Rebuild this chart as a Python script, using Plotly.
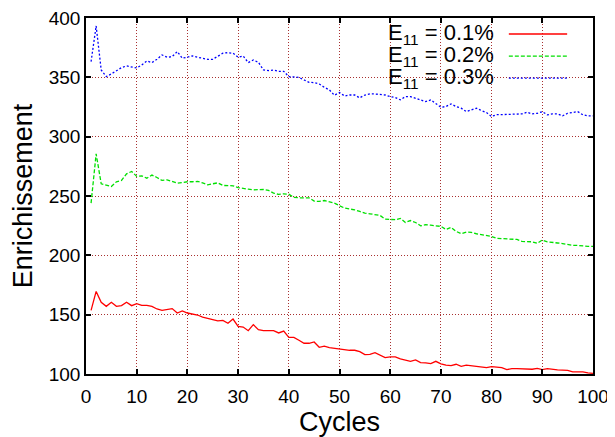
import plotly.graph_objects as go

cycles = list(range(1, 101))

e11_01 = [153.6, 169.6, 160.4, 157.0, 160.4, 157.0, 157.6, 160.4, 157.6, 159.3,
          157.9, 157.9, 157.0, 154.8, 153.6, 154.2, 155.1, 151.4, 153.1, 151.4,
          150.6, 149.7, 148.0, 146.6, 145.8, 144.7, 145.2, 142.7, 146.3, 140.2,
          139.6, 136.5, 141.6, 137.4, 136.5, 136.5, 136.5, 134.6, 136.2, 130.9,
          130.9, 128.4, 125.9, 125.9, 127.0, 122.5, 123.4, 122.3, 121.7, 121.4,
          120.8, 120.0, 120.0, 118.9, 116.3, 116.6, 118.0, 115.8, 113.8, 114.4,
          114.4, 112.7, 111.9, 110.7, 111.9, 109.6, 109.3, 108.8, 110.7, 108.5,
          107.4, 107.1, 108.2, 106.5, 107.4, 106.8, 106.2, 105.4, 105.4, 106.2,
          105.6, 105.4, 103.7, 104.5, 104.5, 104.5, 104.5, 104.0, 104.8, 103.7,
          104.5, 103.7, 103.4, 103.2, 103.0, 101.8, 101.8, 101.8, 101.0, 100.6]

e11_02 = [244.0, 285.5, 260.3, 258.9, 258.0, 262.0, 263.1, 268.7, 270.7, 266.5,
          267.0, 265.0, 267.6, 265.6, 263.1, 263.6, 262.0, 260.8, 261.3, 262.0,
          262.0, 262.3, 261.1, 259.4, 260.3, 261.1, 258.9, 258.6, 258.6, 257.0,
          256.1, 255.8, 255.2, 255.2, 255.5, 254.7, 252.4, 251.3, 251.8, 251.5,
          248.8, 248.5, 248.5, 248.5, 245.7, 245.4, 246.2, 245.4, 244.0, 241.8,
          239.8, 239.0, 238.4, 237.0, 235.6, 235.0, 234.2, 233.6, 230.5, 230.0,
          230.0, 231.1, 227.7, 229.3, 227.7, 224.9, 225.8, 225.4, 224.9, 224.4,
          221.8, 223.6, 220.2, 218.2, 219.6, 219.3, 218.2, 217.3, 216.5, 215.9,
          214.3, 214.0, 213.4, 213.4, 213.4, 211.7, 211.4, 211.4, 210.1, 212.9,
          211.4, 210.6, 210.4, 209.9, 208.9, 208.4, 208.4, 207.8, 207.5, 207.5]

e11_03 = [363.2, 393.3, 356.2, 350.6, 352.9, 355.7, 358.2, 359.6, 359.0, 357.9,
          360.4, 363.8, 362.4, 365.2, 368.9, 366.9, 367.5, 371.7, 366.1, 366.9,
          368.0, 366.9, 366.1, 365.2, 365.2, 368.0, 370.3, 370.8, 370.3, 366.9,
          368.0, 362.4, 364.6, 362.7, 356.2, 355.7, 356.2, 355.1, 355.1, 350.6,
          350.3, 350.0, 347.8, 345.8, 345.5, 344.4, 341.6, 339.4, 334.9, 337.2,
          334.3, 335.1, 335.1, 332.7, 335.1, 336.0, 336.0, 335.7, 335.1, 333.8,
          333.0, 331.0, 333.8, 333.8, 332.4, 331.5, 329.5, 331.0, 327.5, 324.8,
          325.4, 327.6, 325.4, 324.0, 321.2, 322.5, 324.0, 322.0, 320.3, 317.0,
          318.6, 318.6, 318.6, 318.6, 319.2, 319.2, 320.6, 319.2, 319.7, 321.1,
          318.4, 319.2, 319.2, 317.5, 319.7, 320.3, 321.1, 318.4, 317.5, 317.5]

labels = ["E<sub>11</sub> = 0.1%", "E<sub>11</sub> = 0.2%", "E<sub>11</sub> = 0.3%"]
colors = ["#ff0000", "#00e000", "#0000ff"]
dashes = ["solid", "4px,2px", "2px,2px"]

FONT = "Liberation Sans, Arial, sans-serif"

fig = go.Figure()
for ys, lab, c, d in zip([e11_01, e11_02, e11_03], labels, colors, dashes):
    fig.add_trace(go.Scatter(x=cycles, y=ys, mode="lines", name=lab,
                             line=dict(color=c, width=1.3, dash=d),
                             showlegend=False))

axis_common = dict(showline=True, linecolor="black", linewidth=1.5, mirror="ticks",
                   ticks="inside", ticklen=5, tickcolor="black", tickwidth=1.5,
                   showgrid=True, gridcolor="#a83030", griddash="1px,2px", gridwidth=1,
                   zeroline=False, automargin=False, ticklabeloverflow="allow",
                   tickfont=dict(family=FONT, size=19, color="black"))

# the page body adds an 8px offset top/left, so the figure is sized to compensate
fig.update_layout(
    width=607, height=429,
    margin=dict(l=78, r=22, t=10, b=63),
    plot_bgcolor="white", paper_bgcolor="white",
    font=dict(family=FONT, color="black"),
    xaxis=dict(range=[0, 100], dtick=10, tick0=0, ticklabelstandoff=4,
               title=dict(text="Cycles", font=dict(family=FONT, size=27), standoff=2),
               **axis_common),
    yaxis=dict(range=[100, 400], dtick=50, tick0=100,
               title=dict(text="Enrichissement", font=dict(family=FONT, size=27), standoff=26),
               **axis_common),
)

# gnuplot-style key: white box over the grid, text then sample line
fig.add_shape(type="rect", xref="paper", yref="paper", x0=0.574, x1=0.974, y0=0.798, y1=0.996,
              fillcolor="white", line=dict(width=0), layer="between")
rows = [0.955, 0.893, 0.831]
for lab, c, d, yy in zip(labels, colors, dashes, rows):
    fig.add_annotation(text=lab, xref="paper", yref="paper", x=0.809, y=yy,
                       xanchor="right", yanchor="middle", showarrow=False,
                       font=dict(family=FONT, size=22, color="black"))
    fig.add_shape(type="line", xref="paper", yref="paper", x0=0.834, x1=0.949, y0=yy, y1=yy,
                  line=dict(color=c, width=1.3, dash=d))

fig.write_html("out.html")
